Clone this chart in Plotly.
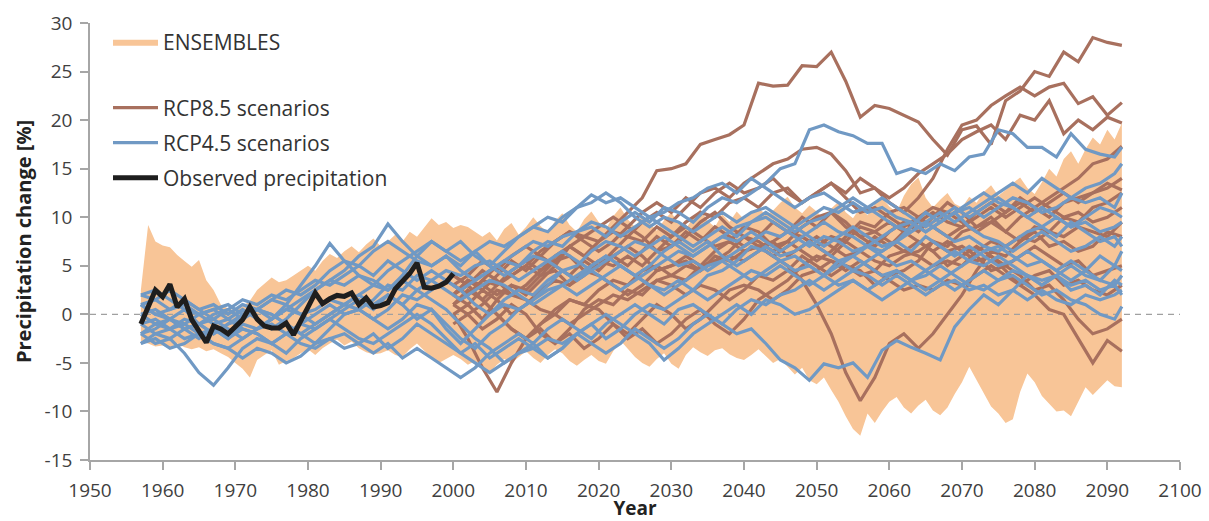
import plotly.graph_objects as go

# ---------------------------------------------------------------- data
OBS_YEARS = list(range(1957, 2001))
OBSERVED = [
    -1.0, 0.8, 2.5, 1.8, 3.1, 0.75, 1.6, -0.55, -1.65, -2.9,
    -1.2, -1.5, -2.0, -1.3, -0.55, 0.75, -0.5, -1.2, -1.4, -1.4,
    -0.9, -2.1, -0.8, 0.75, 2.2, 1.1, 1.6, 1.95, 1.85, 2.2,
    1.0, 1.7, 0.75, 0.9, 1.2, 2.6, 3.4, 4.2, 5.3, 2.8,
    2.7, 2.9, 3.3, 4.2,
]

ENS_YEARS = list(range(1957, 2093))
ENS_UPPER = [
    2.5, 9.2, 7.5,
    7.1, 6.9, 6.1, 5.5, 4.9, 5.6, 3.5, 2.5, 1.0, 0.6,
    0.4, 0.8, 1.4, 2.5, 3.2, 3.8, 3.3, 3.5, 4.0, 4.5,
    5.0, 4.5, 5.5, 6.2, 5.8, 6.5, 7.0, 6.4, 7.2, 7.8,
    7.0, 7.5, 8.2, 7.5, 8.5, 8.0, 9.0, 9.9, 9.2, 9.5,
    8.9, 9.2, 9.0, 8.5, 8.0, 8.5, 7.6, 8.8, 9.4, 8.2,
    9.0, 10.0, 9.1, 8.4, 9.6, 10.4, 9.2, 8.5, 9.8, 10.6,
    9.5, 8.8, 10.1, 11.0, 9.8, 9.0, 10.2, 9.4, 8.6, 9.7,
    10.5, 9.3, 8.8, 10.0, 10.8, 9.6, 9.0, 10.3, 9.5, 10.6,
    9.8, 10.4, 11.0, 10.2, 10.7, 11.5, 12.1, 11.0, 10.4, 11.2,
    10.6, 9.8, 10.9, 11.6, 10.5, 9.9, 11.0, 10.2, 11.3, 12.0,
    11.1, 10.5, 12.2, 13.4, 14.1, 12.0, 11.0, 11.8, 12.5, 11.4,
    11.0, 12.1, 11.5, 12.6, 13.3, 12.2, 12.8, 13.5, 14.1, 13.0,
    12.4, 13.6, 15.0, 14.2, 16.0, 16.8, 15.5, 17.0, 18.2, 17.5,
    19.0, 18.0, 19.7,
]
ENS_LOWER = [
    -2.8, -3.0, -3.3,
    -3.2, -3.5, -3.0, -3.4, -3.6, -3.4, -3.8, -3.6, -4.0, -4.4,
    -5.0, -5.6, -6.5, -4.7, -4.2, -3.7, -5.2, -4.8, -4.5, -4.0,
    -3.6, -4.2, -3.5, -3.0, -2.6, -3.2, -2.8, -3.5, -3.9, -4.1,
    -4.0, -3.7, -4.2, -4.4, -3.6, -3.0, -3.8, -4.5, -5.0, -4.6,
    -4.2, -4.6, -5.2, -4.8, -5.5, -6.0, -5.2, -4.6, -5.0, -4.4,
    -3.8, -4.5, -5.0, -4.2, -3.6, -4.0, -4.8, -5.3, -4.7, -4.2,
    -4.8, -5.1, -3.8, -2.7, -3.6, -4.4, -5.0, -5.4, -4.6, -4.0,
    -5.1, -5.6, -4.2, -3.4, -3.9, -4.3, -3.7, -3.5, -4.1, -4.5,
    -4.7, -4.2, -3.6, -4.3, -5.0, -4.6, -5.4, -6.2, -5.5, -6.8,
    -7.2, -6.5, -7.8, -9.0, -10.5, -11.8, -12.5, -10.2, -11.2, -10.0,
    -9.0, -8.5, -9.6, -10.2, -9.4, -8.8, -9.9, -10.4, -9.6, -8.2,
    -7.0, -5.4, -6.8, -8.1, -9.5, -10.2, -11.2, -10.8, -8.0, -6.1,
    -7.0, -8.4, -9.2, -10.0, -9.9, -10.5, -9.0, -7.5, -8.3, -7.5,
    -6.8, -7.4, -7.5,
]

# RCP8.5 runs, every second year 2000-2090 plus 2092
RCP85_YEARS = list(range(2000, 2091, 2)) + [2092]
RCP85_A = [2, 3.5, 2.5, 4, 5.5, 4.5, 6, 5, 7, 8, 7.5, 9, 10.5, 12, 14.8, 15, 15.5, 17.5, 18, 18.5,
           19.5, 23.8, 23.5, 23.6, 25.6, 25.5, 27, 24, 20.3, 21.5, 21.2, 20.5, 19.8, 18, 16.4,
           19, 19.4, 17.5, 22, 23, 25, 24.5, 27, 26, 28.5, 28, 27.7]
RCP85_B = [1, 2.5, 1.5, 3, 4.5, 5.5, 4.5, 6, 7, 6, 7.5, 8.5, 8, 9.5, 10.5, 9.5, 11, 12.5, 13, 12,
           13.5, 14.5, 15.5, 16, 17, 17.2, 16.5, 14.8, 12.5, 13, 11.5, 10.5, 12, 14, 17,
           19.5, 20, 21.5, 22.5, 23.4, 22.5, 23.4, 23.8, 21.7, 22.4, 20.5, 21.8]
RCP85_C = [4, 3, 4.5, 3.5, 2, 3, 4.5, 5.5, 7, 6, 5, 6.5, 8, 7.5, 9, 8, 9.5, 10.5, 10, 11.5,
           12, 11, 12.5, 13, 11.5, 12.5, 13.5, 12.5, 14, 13, 12, 13, 14.5, 15.5, 16.5,
           18, 18.8, 19.5, 18, 20.5, 20, 22, 18.6, 20, 19, 20.3, 19.7]
RCP85_D = [0, 1, -0.5, 1.5, 3, 2, 3.5, 5, 4, 5.5, 4.5, 6, 5, 6.5, 8, 7, 8.5, 7.5, 9, 8,
           7, 8, 9.5, 8.5, 10, 9, 10.5, 9.5, 8, 7, 8.5, 9.5, 8.5, 10, 11.5,
           10.5, 9, 10, 8.5, 10, 11, 12, 13, 14, 15.5, 16, 17.3]
RCP85_E = [2, 1, 2.5, 1.5, 0, 1, 2.5, 3.5, 3, 4.5, 5.5, 5, 6, 5, 6.5, 8, 9, 8, 7, 7.5,
           9, 8.5, 7, 7.5, 6.5, 5.5, 6.5, 8, 9.5, 9, 10.5, 11, 10, 9, 8,
           9, 10.5, 11.5, 10.5, 12, 11, 10, 11.5, 12, 12.5, 13, 14]
RCP85_F = [1, 2, 3.5, 3, 4, 5, 4, 4.5, 3, 4, 5.5, 6, 7, 6, 4.5, 5, 6, 5, 6.5, 7.5,
           6.5, 7, 6, 5, 3.5, 1, -2, -6, -8.9, -6.5, -3, -2, -3.5, -2, 0,
           2, 4.5, 6.5, 6, 7.5, 9, 8.5, 10, 9.5, 11, 11.5, 12.5]
RCP85_G = [0, -2.5, -5.5, -8, -5, -2.5, -1, 0.5, 1.5, 1, 2.5, 3.5, 3, 4.5, 5, 4, 5, 4.5, 6, 5.5,
           6.5, 7, 6, 7, 8, 7, 6, 7.5, 6.5, 8, 7, 8.5, 7.5, 6.5, 7.5,
           6.5, 5.5, 6, 4.5, 3, 2, 0.5, 0, -2.5, -5, -2.7, -3.8]
RCP85_H = [2, 3, 1.5, 0, -1.5, -2.5, -1, 0, 1.5, 1, 0.5, -1, -2.5, -1.5, -3, -2, -0.5, 0.5, -1, -2,
           -0.5, 1.5, 2.5, 3.5, 5, 6, 5.5, 4.5, 5.5, 4.5, 6, 6.5, 7.5, 6.5, 5,
           6, 7, 6, 5, 4, 2.5, 3, 1.5, -0.5, -2, -1.5, -0.5]
RCP85_I = [3, 2, 3.5, 5, 4, 5, 6.5, 7.5, 8.5, 7.5, 6.5, 7.5, 9, 8, 6.5, 7, 8, 9.5, 10.5, 9,
           8, 7, 7.5, 6, 7, 8, 7, 6, 6.5, 5.5, 5, 6, 6.5, 7.5, 6.5,
           7, 6, 4.5, 5, 6, 7, 6, 5, 5.5, 4, 4.5, 5]
RCP85_J = [-1, 0, -1.5, -0.5, 1, 0, -2, -3, -1.5, 0.5, 1.5, 1, 2.5, 2, 3.5, 3, 2, 3, 2.5, 1.5,
           2.5, 4, 3.5, 4.5, 6, 5, 4, 5, 4.5, 3, 4, 4.5, 5.5, 7.5, 7,
           8.5, 9, 9.5, 8.5, 7.5, 8.5, 7, 7.5, 6.5, 7, 8.5, 8]
RCP85_K = [4, 3, 1.5, 0, -1.5, -2.5, -1.5, -3, -2, -3.5, -2.5, -1, -2, -0.5, 1, 0, -1.5, -0.5, 1, 2.5,
           3, 2.5, 1.5, 2.5, 4, 4.5, 5.5, 5, 4, 4.5, 3.5, 2.5, 3, 2.5, 3.5,
           3, 4, 5, 4, 3, 4, 4.5, 3, 3.5, 2.5, 2, 3]
RCP85_L = [1, 0, 1, 2.5, 2, 1.5, 0.5, 0, -1, 0, 1, 2, 1.5, 2.5, 3.5, 4, 3.5, 5, 5.5, 6,
           5.5, 6.5, 7.5, 8.5, 8, 7, 8, 7.5, 9, 8.5, 9.5, 8.5, 9.5, 10.5, 9.5,
           9, 10, 11, 10, 11, 12, 11, 10, 10.5, 9.5, 10, 11]
RCP85_M = [2, 3.5, 3, 2, 3, 2.5, 4, 5.5, 6, 4.5, 4, 3, 2, 3, 4.5, 5, 5.5, 4.5, 5.5, 6.5,
           8, 7.5, 6.5, 7.5, 9, 10, 10.5, 9, 8, 8.5, 7.5, 6.5, 6, 5, 5.5,
           5, 6.5, 7.5, 7, 8, 7.5, 8.5, 8, 9, 8.5, 8, 9.5]
RCP85_N = [3, 4, 5.5, 4.5, 6, 7, 6, 7.5, 8.5, 8, 9, 10, 9, 10.5, 11.5, 10.5, 12, 11, 12.5, 13.5,
           12.5, 13, 14, 12.5, 11.5, 12.5, 13.5, 12, 10.5, 11, 10, 9, 10, 11, 10.5,
           9.5, 8.5, 9.5, 10.5, 11.5, 10.5, 11.5, 12.5, 11.5, 12.5, 13.5, 12.8]

# RCP4.5 runs, every second year 1957-2091 plus 2092
RCP45_YEARS = list(range(1957, 2092, 2)) + [2092]
RCP45_A = [1, 0, -0.5, 0.5, -1, -0.5, 0.5, 1.5, 1, 2, 1.5, 2.5, 3.5, 3, 4, 5, 4, 5.5, 4.5, 3.5,
           4.5, 3.5, 2.5, 3.5, 4.5, 5.5, 5, 6.5, 7.5, 7, 8.5, 9, 8, 9.5, 10.5, 9.5, 11, 10.5, 9.5, 11,
           12, 11.5, 12.5, 13.5, 15, 15.5, 19, 19.5, 18.8, 18.4, 17.6, 17.6, 14.5, 15, 14.5,
           15.5, 14.8, 16.2, 16.5, 19, 18.6, 17.2, 17.2, 16.2, 18.6, 17, 16.5, 16.2, 17.2]
RCP45_B = [-2, -3, -2.5, -4, -6, -7.3, -5.5, -3.5, -2.5, -3, -4, -2.5, -1.5, -0.5, 0.5, 1.5, 0.5, 2, 1, -0.5,
           0.5, -1.5, -3, -1.5, 0, 1.5, 2.5, 2, 3.5, 4.5, 3.5, 5, 6, 5, 4, 5, 6.5, 7.5, 6.5, 7.5,
           6, 5, 6, 7, 6, 6.5, 7.5, 6.5, 5.5, 4.5, 5.5, 6.5, 7.5, 6.5, 8,
           7, 6, 7, 6, 5, 5.5, 6.5, 5.5, 4.5, 5.5, 4.5, 6, 5, 6.5]
RCP45_C = [2, 2.5, 1.5, 0.5, 0, -1, -0.5, 0.5, -0.5, -1.5, -0.5, 1, 2.5, 3.5, 4.5, 6, 7, 9.3, 7.5, 6,
           5, 6, 5, 6.5, 7.5, 7, 8, 9, 8.5, 10, 11, 11.5, 12.5, 11.5, 10, 9, 10, 9.5, 8.5, 9.5,
           10.5, 9.5, 10.5, 11, 10, 9, 10, 11, 10.5, 11.5, 10.5, 11, 10, 9.5, 8.5,
           9.5, 10.5, 11, 10, 11, 12, 11.5, 10.5, 11, 12, 11.5, 12, 11, 12.5]
RCP45_D = [0, -1, -0.5, -1.5, -2.5, -1.5, -2.5, -1, -1.5, -0.5, 1, 3, 5, 7.3, 5.5, 4, 3, 4.5, 5.5, 6.5,
           7.5, 6.5, 7.5, 6, 5, 6.5, 8, 9, 10, 9.5, 11, 12.3, 11.5, 12, 11, 10, 9, 8, 7, 8,
           9, 8, 9.5, 10, 9, 8, 7, 8, 7.5, 6.5, 7, 8, 9, 8.5, 9.5,
           10.5, 9.5, 10.5, 11.5, 12.5, 13.5, 12.5, 14, 13, 12, 13, 13.5, 14.5, 15.5]
RCP45_E = [-3, -2.5, -3.5, -3, -2, -3, -3.5, -4.5, -3.5, -4, -5, -4.3, -3, -2.5, -3.5, -3, -4, -3, -4.5, -3.5,
           -4.5, -5.5, -6.5, -5.5, -4, -3, -2, -3, -1.5, -0.5, -1.5, -2.5, -1, 0, 1, 0, -1, 0.5, 1, 0,
           -1, -2, -1.5, -3, -4.7, -5.5, -6.8, -5.1, -5.5, -5, -6.5, -3.7, -2.7, -3.4, -4,
           -4.7, -1.3, 0.5, 2, 1, 2.5, 4, 3, 4, 2.5, 3, 2, 3.5, 3]
RCP45_F = [-1, -0.5, -1.5, -1, 0, 0.5, -0.5, -1.5, -2, -3, -2, -1, -1.5, -0.5, -1.5, -2.5, -3, -2, -1, 0,
           -1, -2.5, -4, -5, -6, -5, -4, -3.5, -2.5, -3, -2, -1, 0, -1, -2, -3, -4.7, -3.5, -2, -1,
           0, 1, 0, 1.5, 1, 0, 0.5, 1.5, 2.5, 3.5, 2.5, 1.5, 2.5, 3.5, 4.5,
           3.5, 2.5, 3.5, 4.5, 3.5, 4, 3, 2, 2.5, 1.5, 1, 0, -0.5, 0.8]
RCP45_G = [2, 1.5, 2.5, 1.5, 0.5, 1, 0, 1, 0.5, -0.5, 0.5, 1.5, 2.5, 3.5, 3, 4, 3.5, 2.5, 3.5, 2.5,
           3.5, 4.5, 4, 5, 5.5, 4.5, 3.5, 4.5, 5.5, 6.5, 5.5, 4.5, 5.5, 6.5, 7.5, 7, 6, 5, 5.5, 4.5,
           5.5, 6.5, 7.5, 8.5, 8, 9, 8, 7, 8, 9, 8, 7, 7.5, 8.5, 9.5,
           8.5, 7.5, 8, 7, 6.5, 7.5, 8.5, 9, 8, 9.5, 8.5, 7.5, 8, 7]
RCP45_H = [-2, -1, -1.5, -0.5, -1, -2, -1, 0, 0.5, 0, -1, -2, -1, 0, 1, 0.5, -0.5, 0.5, 2, 1.5,
           2.5, 3.5, 2.5, 1, 0, 1, 0.5, 1.5, 2.5, 3, 2, 3, 4, 5, 4, 3, 2.5, 3.5, 2.5, 1.5,
           2.5, 3.5, 4.5, 4, 5, 4, 3, 4, 5.5, 6, 5, 4, 4.5, 3.5, 4,
           5, 4, 3, 2.5, 3.5, 4.5, 4, 3, 4, 5, 4, 3.5, 3, 4]
RCP45_I = [1, 1.5, 0.5, 1, 0, 0.5, 1, 0, 0.5, 1.5, 2.5, 2, 3, 4.5, 5.5, 5, 6.5, 7.5, 6.5, 5.5,
           5, 6, 4.5, 3.5, 4.5, 5.5, 6.5, 7.5, 7, 8, 8.5, 9.5, 9, 8, 9, 10, 10.5, 11.5, 12, 13,
           13.5, 12.5, 14, 13, 12, 11, 12, 12.5, 11.5, 10.5, 11, 12, 11, 10, 9,
           10, 11, 10, 11, 12, 11, 10, 11, 10, 9, 9.5, 8.5, 9, 9.5]
RCP45_J = [-1, -2, -2.5, -1.5, -1, -2, -1, -0.5, 0.5, 0, -1, -2, -3, -1.5, 0, 0.5, 1.5, 3, 2.5, 4,
           3.5, 2.5, 1.5, 2.5, 3.5, 3, 2, 1, 2, 3, 4, 5, 6, 5, 4, 3, 2, 3, 4, 5,
           5.5, 4.5, 3.5, 4.5, 5.5, 4.5, 5, 4, 3, 3.5, 2.5, 3.5, 4.5, 3.5, 2.5,
           3.5, 4.5, 5.5, 5, 6, 5, 4, 3.5, 4, 3, 3.5, 2.5, 3, 2]
RCP45_K = [0, 0.5, -0.5, -1.5, -1, 0, 0.5, -0.5, 0.5, 1.5, 1, 0, 0.5, 1.5, 1, 2, 3, 2.5, 4, 6,
           7.5, 6.5, 5.5, 6.5, 5, 4, 5, 6, 5.5, 4.5, 3.5, 4.5, 3.5, 2.5, 3.5, 4.5, 5.5, 6.5, 6, 7,
           8, 7.5, 8.5, 7.5, 6.5, 7.5, 8.5, 9.5, 8.5, 8, 7, 6.5, 7.5, 9, 10.5,
           9.5, 10.5, 9, 8, 7.5, 6.5, 7.5, 8.5, 7.5, 6.5, 7, 8, 7, 8]
RCP45_L = [-3, -2, -1.5, -2.5, -2, -3, -3.5, -2.5, -1.5, -1, -2, -3, -3.5, -2.5, -2, -3, -2, -3.5, -2.5, -1,
           -2, -3, -4, -3, -4.5, -3.5, -2.5, -3.5, -4.5, -3.5, -2, -3, -4, -3, -1.5, -2.5, -3.5, -2.5, -1, 0,
           -1, 0.5, 1.5, 1, 2, 2.5, 3.5, 2.5, 3.5, 4.5, 4, 3, 4, 3, 2,
           3, 3.5, 2.5, 3, 2, 2.5, 1.5, 2.5, 1.5, 1, 2, 1.5, 2, 2.5]
RCP45_M = [1, 0, 0.5, 1.5, 0.5, -0.5, -1.5, -2.5, -1.5, -0.5, 0.5, 0, -1, 0, 1, 2, 1, 2, 1, 2.5,
           1.5, 0.5, -1, -2.5, -3.5, -5, -4, -3, -4.5, -3.5, -2, -1, -2.5, -1.5, 0, 1, 0.5, 1.5, 2.5, 4,
           4.5, 5.5, 7, 6.5, 5.5, 6, 5, 4, 5, 6, 7, 6, 5, 5.5, 4.5,
           5.5, 6.5, 5.5, 6.5, 7, 6, 5, 5.5, 4.5, 3.5, 4.5, 3.5, 5, 4.5]
RCP45_N = [-2, -1.5, -0.5, -1, -2, -1.5, -2.5, -1.5, -2, -3, -2, -1, 0, 1, 0, 0.5, -0.5, -1.5, -0.5, 1,
           0.5, -1, -2.5, -3.5, -2, -1, 0.5, 1.5, 3, 4.5, 5, 6.5, 7.5, 7, 6, 7, 8, 7, 6, 7,
           8, 9, 9.5, 10.5, 9.5, 8.5, 9.5, 10, 11, 12, 11, 10, 9, 9.5, 8.5,
           9.5, 10.5, 11.5, 12.5, 11.5, 11, 10, 9, 10, 9, 10, 11, 10.5, 10]

RCP85_RUNS = (RCP85_A, RCP85_B, RCP85_C, RCP85_D, RCP85_E, RCP85_F, RCP85_G,
              RCP85_H, RCP85_I, RCP85_J, RCP85_K, RCP85_L, RCP85_M, RCP85_N)
RCP45_RUNS = (RCP45_A, RCP45_B, RCP45_C, RCP45_D, RCP45_E, RCP45_F, RCP45_G,
              RCP45_H, RCP45_I, RCP45_J, RCP45_K, RCP45_L, RCP45_M, RCP45_N)

X_RANGE = [1950, 2100]
X_TICKS = list(range(1950, 2101, 10))
Y_RANGE = [-15, 30]
Y_TICKS = list(range(-15, 31, 5))

# ---------------------------------------------------------------- style
ORANGE = "#F8C597"
BROWN = "#A8705E"
BLUE = "#7099C4"
BLACK = "#1E1E1E"
AXIS = "#A6A6A6"
TEXT = "#404040"
FONT = "Open Sans"

fig = go.Figure()

# ensemble envelope as a closed polygon
fig.add_trace(go.Scatter(
    x=ENS_YEARS + ENS_YEARS[::-1],
    y=ENS_UPPER + ENS_LOWER[::-1],
    fill="toself", fillcolor=ORANGE, mode="lines", line=dict(width=0),
    name="ENSEMBLES", legend="legend", hoverinfo="skip",
))

# dashed zero reference
fig.add_trace(go.Scatter(
    x=X_RANGE, y=[0, 0], mode="lines", showlegend=False, hoverinfo="skip",
    line=dict(color="#A0A0A0", width=1.3, dash="6px,5px"),
))

for i, run in enumerate(RCP85_RUNS):
    fig.add_trace(go.Scatter(
        x=RCP85_YEARS, y=run, mode="lines",
        line=dict(color=BROWN, width=3.2),
        name="RCP8.5 scenarios", legendgroup="rcp85",
        showlegend=(i == 0), legend="legend2",
    ))

for i, run in enumerate(RCP45_RUNS):
    fig.add_trace(go.Scatter(
        x=RCP45_YEARS, y=run, mode="lines",
        line=dict(color=BLUE, width=3.2),
        name="RCP4.5 scenarios", legendgroup="rcp45",
        showlegend=(i == 0), legend="legend3",
    ))

fig.add_trace(go.Scatter(
    x=OBS_YEARS, y=OBSERVED, mode="lines",
    line=dict(color=BLACK, width=5),
    name="Observed precipitation", legend="legend4",
))


def legend_at(ypix):
    return dict(
        x=18 / 1090, xref="paper", xanchor="left",
        y=1 - (ypix - 23) / 437, yref="paper", yanchor="middle",
        bgcolor="rgba(0,0,0,0)", borderwidth=0,
        font=dict(family=FONT, size=21, color="#333333"),
        itemwidth=45, tracegroupgap=0,
    )


fig.update_layout(
    width=1209, height=521,
    margin=dict(l=90, r=29, t=23, b=61),
    plot_bgcolor="white", paper_bgcolor="white",
    font=dict(family=FONT, color=TEXT),
    legend=legend_at(42),
    legend2=legend_at(108),
    legend3=legend_at(143),
    legend4=legend_at(178),
    xaxis=dict(
        range=X_RANGE, tickvals=X_TICKS, ticktext=[str(v) for v in X_TICKS],
        showline=True, linecolor=AXIS, linewidth=1.5,
        ticks="outside", ticklen=8, tickwidth=1.5, tickcolor=AXIS,
        showgrid=False, zeroline=False,
        tickfont=dict(size=19, color=TEXT), ticklabelstandoff=4,
        title=dict(text="<b>Year</b>", font=dict(size=19, color="#222222"), standoff=1),
        automargin=False,
    ),
    yaxis=dict(
        range=Y_RANGE, tickvals=Y_TICKS, ticktext=[str(v) for v in Y_TICKS],
        showline=True, linecolor=AXIS, linewidth=1.5,
        ticks="outside", ticklen=8, tickwidth=1.5, tickcolor=AXIS,
        showgrid=False, zeroline=False,
        tickfont=dict(size=19, color=TEXT), ticklabelstandoff=4,
        title=dict(text="<b>Precipitation change [%]</b>",
                   font=dict(size=20, color="#222222"), standoff=8),
        automargin=False,
    ),
)

fig.write_html("out.html")
